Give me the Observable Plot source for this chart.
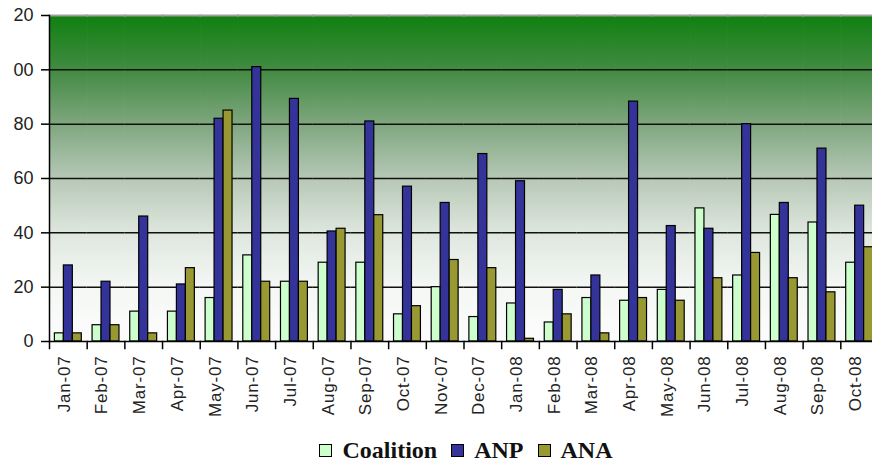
<!DOCTYPE html>
<html><head><meta charset="utf-8">
<script src="https://cdn.jsdelivr.net/npm/d3@7"></script>
<script src="https://cdn.jsdelivr.net/npm/@observablehq/plot@0.6"></script>
<style>
html,body{margin:0;padding:0;background:#fff;overflow:hidden;width:872px;height:464px;}
#chart{position:absolute;left:0;top:0;width:900px;}
#chart svg{max-width:none !important;}
#chart g[aria-label="fx-axis tick label"] text{letter-spacing:0.8px;}
#legend{position:absolute;left:0;top:436px;width:932px;display:flex;justify-content:center;align-items:center;
  font-family:"Liberation Serif","Times New Roman",serif;font-weight:bold;font-size:24px;color:#111;line-height:28px;}
#legend .item{display:flex;align-items:center;margin:0 7px;}
#legend .sw{width:11px;height:11px;border:1px solid #000;margin-right:10px;}
</style>
</head><body>
<svg width="0" height="0" style="position:absolute">
  <defs>
    <linearGradient id="bg" x1="0" y1="0" x2="0" y2="1">
      <stop offset="0" stop-color="#108010"/>
      <stop offset="0.17" stop-color="#438b43"/>
      <stop offset="0.33" stop-color="#7ea67e"/>
      <stop offset="0.5" stop-color="#b6c8b6"/>
      <stop offset="0.67" stop-color="#dfe7df"/>
      <stop offset="0.83" stop-color="#f4f7f4"/>
      <stop offset="1" stop-color="#fcfcfc"/>
    </linearGradient>
  </defs>
</svg>
<div id="chart"></div>
<div id="legend"></div>
<script>
const months = ["Jan-07","Feb-07","Mar-07","Apr-07","May-07","Jun-07","Jul-07","Aug-07","Sep-07","Oct-07","Nov-07","Dec-07",
  "Jan-08","Feb-08","Mar-08","Apr-08","May-08","Jun-08","Jul-08","Aug-08","Sep-08","Oct-08"];
const series = ["Coalition","ANP","ANA"];
const colors = ["#ccffcc","#333399","#999933"];
const coalition = [3,6,11,11,16,31.7,22,29,29,10,20,9,14,7,16,15,19,49,24.3,46.6,43.8,29];
const anp = [28,22,46,21,82,101,89.3,40.5,81,57,51,69,59,19,24.3,88.3,42.5,41.5,80,51,71,50];
const ana = [3,6,3,27,85,22,22,41.5,46.5,13,30,27,1,10,3,16,15,23.3,32.6,23.3,18.1,34.7];
const yTicks = [0,20,40,60,80,100,120];
const yTickLabels = ["0","20","40","60","80","00","20"];

const valuesBySeries = [coalition, anp, ana];
const data = months.flatMap((m, i) => series.map((s, k) => ({month: m, series: s, value: valuesBySeries[k][i]})));

const chart = Plot.plot({
  width: 880,
  height: 425,
  marginTop: 15,
  marginBottom: 84,
  marginLeft: 49,
  marginRight: 2,
  facet: {marginLeft: 0, marginRight: 0, marginTop: 0, marginBottom: 0},
  style: {fontFamily: "'Liberation Sans', Arial, sans-serif", background: "transparent", overflow: "visible"},
  fx: {domain: months, paddingInner: 0, paddingOuter: 0, round: false, label: null},
  x: {domain: series, paddingInner: 0, paddingOuter: 0.6, round: false, axis: null},
  y: {domain: [0, 120], label: null},
  color: {domain: series, range: colors},
  marks: [
    Plot.frame({fill: "url(#bg)", stroke: "url(#bg)", strokeWidth: 1}),
    Plot.gridY(yTicks.slice(1, -1), {stroke: "#111", strokeOpacity: 1, strokeWidth: 1.5}),
    Plot.frame({anchor: "top", stroke: "#a0a0a0", strokeWidth: 2}),
    Plot.barY(data, {fx: "month", x: "series", y: "value", fill: "series", stroke: "#000", strokeWidth: 1.2}),
    Plot.ruleY([0], {stroke: "#000", strokeWidth: 1.5}),
    Plot.frame({anchor: "left", facetAnchor: "left", stroke: "#000", strokeWidth: 1.5}),
    Plot.frame({anchor: "left", insetTop: 326, insetBottom: -7, stroke: "#000", strokeWidth: 1.5}),
    Plot.axisY(yTicks, {tickFormat: (d, i) => yTickLabels[i], tickSize: 8, tickPadding: 8, fontSize: 18, fill: "#222", stroke: "#000", strokeWidth: 1.5, label: null}),
    Plot.axisFx({anchor: "bottom", tickRotate: -90, tickSize: 0, tickPadding: 14, fontSize: 17, fill: "#222", dx: -4, label: null})
  ]
});
document.getElementById("chart").appendChild(chart);

const legend = document.getElementById("legend");
series.forEach((s, k) => {
  const item = document.createElement("div");
  item.className = "item";
  const sw = document.createElement("span");
  sw.className = "sw";
  sw.style.background = colors[k];
  const t = document.createElement("span");
  t.textContent = s;
  item.appendChild(sw);
  item.appendChild(t);
  legend.appendChild(item);
});
</script>
</body></html>
